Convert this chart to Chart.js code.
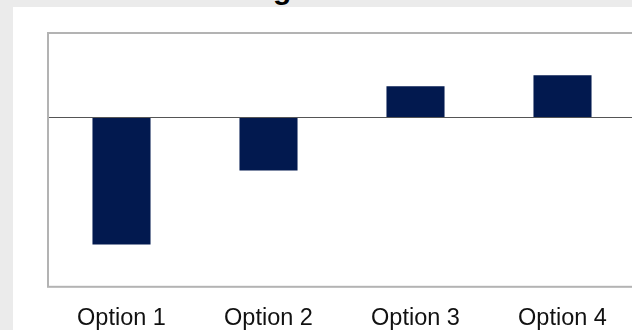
<!DOCTYPE html>
<html lang="en">
<head>
    <meta charset="UTF-8">
    <script src="https://cdn.jsdelivr.net/npm/chart.js@4"></script>
    <title>Ratings</title>
    <style>
        html, body { margin: 0; padding: 0; overflow: hidden; }
        body { background: #ebebeb; width: 632px; height: 330px; position: relative; }
        #panel { position: absolute; left: 13px; top: 7px; width: 700px; height: 400px; background: #fff; }
        #title { position: absolute; left: 198px; top: -26px; font: bold 30px "Liberation Sans", Arial, sans-serif; line-height: 30px; color: #000; white-space: nowrap; }
        #container { position: absolute; left: 0; top: 0; }
    </style>
</head>
<body>
<div id="panel"></div>
<div id="title">Rating</div>
<canvas id="container" width="720" height="351"></canvas>

<script>
    const categories = ['Option 1', 'Option 2', 'Option 3', 'Option 4'];
    const values = [-1.5, -0.625, 0.37, 0.5];
    const yMin = -2;
    const yMax = 1;

    // grey frame round the plot area
    const frame = {
        id: 'frame',
        afterDraw(chart) {
            const a = chart.chartArea;
            const ctx = chart.ctx;
            ctx.save();
            ctx.strokeStyle = '#b3b3b3';
            ctx.lineWidth = 2;
            ctx.strokeRect(a.left, a.top, a.right - a.left, a.bottom - a.top);
            ctx.restore();
        }
    };

    const ctx = document.getElementById('container').getContext('2d');
    const myChart = new Chart(ctx, {
        type: 'bar',
        data: {
            labels: categories,
            datasets: [{
                data: values,
                backgroundColor: '#02194f',
                categoryPercentage: 1,
                barPercentage: 0.395
            }]
        },
        options: {
            responsive: false,
            animation: false,
            layout: { padding: { left: 48, right: 84, top: 33, bottom: 0 } },
            plugins: {
                legend: { display: false },
                tooltip: { enabled: false }
            },
            scales: {
                x: {
                    grid: { display: false, drawTicks: false },
                    border: { display: false },
                    ticks: {
                        padding: 18,
                        color: '#111',
                        font: { family: '"Liberation Sans", Arial, sans-serif', size: 23.5 }
                    }
                },
                y: {
                    min: yMin,
                    max: yMax,
                    grid: {
                        drawTicks: false,
                        color: c => c.tick && c.tick.value === 0 ? '#555' : 'rgba(0,0,0,0)'
                    },
                    border: { display: false },
                    ticks: { display: false, stepSize: 1 }
                }
            }
        },
        plugins: [frame]
    });
</script>
</body>
</html>
